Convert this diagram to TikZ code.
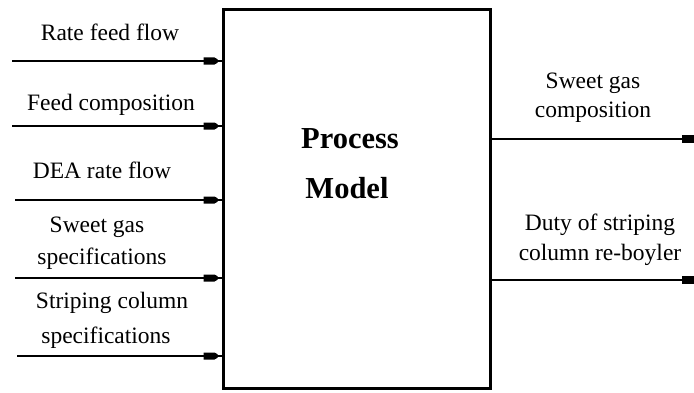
\documentclass[tikz,border=0pt]{standalone}
\usepackage{fontspec}
\setmainfont{Liberation Serif}
\usetikzlibrary{decorations.markings}
\begin{document}
\begin{tikzpicture}[x=1pt,y=1pt,
  lbl/.style={font=\fontsize{23.5}{31}\selectfont, align=center, anchor=base, inner sep=0pt},
  conn/.style={line width=1.5pt},
  intip/.style={conn, postaction={decorate}, decoration={markings,
     mark=at position -7pt with {\fill (-11pt,-3.5pt) -- (0pt,-3.5pt) -- (3pt,-1.8pt) -- (3pt,1.8pt) -- (0pt,3.5pt) -- (-11pt,3.5pt) -- cycle;}}},
  outtip/.style={conn, postaction={decorate}, decoration={markings,
     mark=at position 1 with {\fill (-12pt,-4pt) -- (-12pt,4pt) -- (0pt,4pt) -- (0pt,-4pt) -- cycle;}}}]
\useasboundingbox (0,0) rectangle (694,392);
\node[draw, line width=3pt, minimum width=267pt, minimum height=378pt, inner sep=0pt] (box) at (356.5,193) {};
\node[font=\fontsize{30.5}{50}\selectfont\bfseries, inner sep=0pt, anchor=base] (p1) at (350,244) {Process};
\node[font=\fontsize{30.5}{50}\selectfont\bfseries, inner sep=0pt, anchor=base] (p2) at (347,194) {Model};
% inputs
\coordinate (s1) at (12,331);
\coordinate (s2) at (12,266);
\coordinate (s3) at (15,192);
\coordinate (s4) at (15,114);
\coordinate (s5) at (17,36);
\foreach \i in {1,...,5} {\draw[intip] (s\i) -- (s\i -| box.west);}
% outputs
\coordinate (e1) at (694,253);
\coordinate (e2) at (694,112);
\draw[outtip] (e1 -| box.east) -- (e1);
\draw[outtip] (e2 -| box.east) -- (e2);
% labels
\node[lbl] (l1) at (110,352) {Rate feed flow};
\node[lbl] (l2) at (111,282) {Feed composition};
\node[lbl] (l3) at (102,214) {DEA rate flow};
\node[lbl] (l4a) at (97,160) {Sweet gas};
\node[lbl] (l4b) at (102,128) {specifications};
\node[lbl] (l5a) at (112,84) {Striping column};
\node[lbl] (l5b) at (106,49) {specifications};
\node[lbl] (r1a) at (593,304) {Sweet gas};
\node[lbl] (r1b) at (593,275) {composition};
\node[lbl] (r2a) at (600,162) {Duty of striping};
\node[lbl] (r2b) at (600,132) {column re-boyler};
\end{tikzpicture}
\end{document}
